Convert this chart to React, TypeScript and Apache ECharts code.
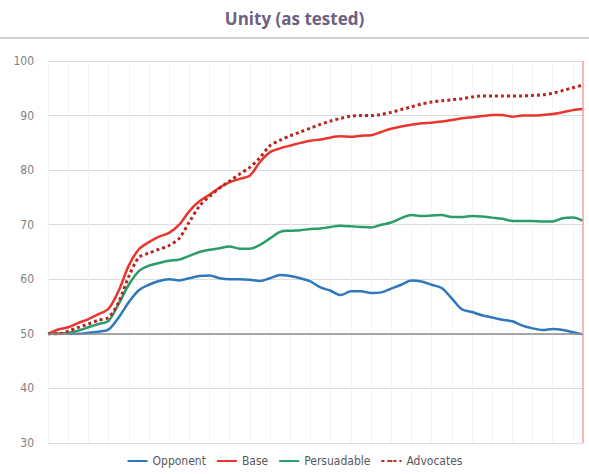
import React, { useEffect, useRef } from "react";
import * as echarts from "echarts";

const categories: string[] = Array.from({ length: 54 }, (_, i) => String(i + 1));

const opponent = [50, 50, 50, 50, 50.2, 50.4, 50.8, 53, 55.8, 58, 59, 59.7, 60, 59.8, 60.2, 60.6, 60.7, 60.2, 60, 60, 59.9, 59.7, 60.2, 60.8, 60.6, 60.2, 59.6, 58.5, 57.9, 57.1, 57.8, 57.8, 57.5, 57.6, 58.3, 59, 59.8, 59.6, 59, 58.4, 56.5, 54.5, 54, 53.4, 53, 52.6, 52.3, 51.5, 51, 50.7, 50.9, 50.7, 50.3, 49.9];
const base = [50, 50.8, 51.2, 52, 52.7, 53.6, 54.6, 57.9, 62.5, 65.5, 66.8, 67.8, 68.5, 70, 72.5, 74.3, 75.5, 76.8, 77.8, 78.4, 79, 81.5, 83.3, 84, 84.5, 85, 85.4, 85.6, 86, 86.2, 86.1, 86.3, 86.4, 87, 87.6, 88, 88.3, 88.6, 88.7, 88.9, 89.2, 89.5, 89.7, 89.9, 90.1, 90.1, 89.8, 90, 90, 90.1, 90.3, 90.6, 91, 91.2];
const persuadable = [50, 50, 50.2, 50.6, 51.2, 51.8, 52.4, 55.5, 59, 61.5, 62.5, 63, 63.4, 63.6, 64.3, 65, 65.4, 65.7, 66, 65.6, 65.6, 66.3, 67.5, 68.7, 68.9, 69, 69.2, 69.3, 69.6, 69.8, 69.7, 69.6, 69.5, 70, 70.4, 71.2, 71.8, 71.6, 71.7, 71.8, 71.4, 71.4, 71.6, 71.5, 71.3, 71.1, 70.7, 70.7, 70.7, 70.6, 70.6, 71.2, 71.3, 70.7];
const advocates = [50, 50, 50.5, 51.2, 51.8, 52.5, 53, 55.8, 60.5, 64, 64.8, 65.5, 66.2, 67.5, 70.5, 73.4, 75.2, 76.7, 78, 79.3, 80.5, 82.3, 84.5, 85.5, 86.3, 87, 87.7, 88.4, 89, 89.5, 89.9, 90, 90, 90.2, 90.6, 91.1, 91.6, 92.1, 92.5, 92.7, 92.9, 93.1, 93.4, 93.6, 93.6, 93.6, 93.6, 93.6, 93.7, 93.8, 94.1, 94.6, 95.1, 95.6];

const yTicks = [30, 40, 50, 60, 70, 80, 90, 100];
const titleText = "Unity (as tested)";

const FONT = "'Liberation Sans Narrow', 'DejaVu Sans Condensed', 'Open Sans', sans-serif";

export default function App() {
  const ref = useRef<HTMLDivElement>(null);
  useEffect(() => {
    if (!ref.current) return;
    const chart = echarts.init(ref.current, undefined, { renderer: "svg" });
    const lineSeries = (name: string, data: number[], color: string, extra: any = {}) => ({
      name,
      type: "line",
      data,
      symbol: "none",
      smooth: 0.3,
      lineStyle: { color, width: 2.5, ...(extra.lineStyle || {}) },
      itemStyle: { color },
      z: extra.z || 2,
      ...(extra.markLine ? { markLine: extra.markLine } : {}),
    });
    chart.setOption({
      animation: false,
      backgroundColor: "#ffffff",
      title: {
        text: titleText,
        left: "center",
        top: 5,
        textStyle: { color: "#6d6080", fontSize: 17, fontWeight: "bold", fontFamily: "'Open Sans', sans-serif" },
      },
      graphic: [
        { type: "line", shape: { x1: 0, y1: 38, x2: 589, y2: 38 }, style: { stroke: "#bfbfbf", lineWidth: 1.5 } },
      ],
      grid: { left: 48, right: 6, top: 61, bottom: 31, containLabel: false },
      legend: {
        bottom: 2,
        left: "center",
        itemWidth: 20,
        itemHeight: 3,
        itemGap: 10,
        textStyle: { color: "#595959", fontSize: 12, fontFamily: FONT },
        data: ["Opponent", "Base", "Persuadable", "Advocates"],
      },
      xAxis: {
        type: "category",
        data: categories,
        boundaryGap: false,
        axisLine: { show: false },
        axisTick: { show: false },
        axisLabel: { show: false },
        splitLine: { show: true, lineStyle: { color: "#f3f3f3", width: 1 } },
      },
      yAxis: {
        type: "value",
        min: yTicks[0],
        max: yTicks[yTicks.length - 1],
        interval: 10,
        axisLine: { show: false },
        axisTick: { show: false },
        axisLabel: { color: "#7f7f7f", fontSize: 12, fontFamily: FONT, margin: 14 },
        splitLine: { lineStyle: { color: "#dcdcdc", width: 1 } },
      },
      series: [
        lineSeries("Opponent", opponent, "#2f78bd", {
          z: 3,
          markLine: {
            silent: true,
            symbol: "none",
            label: { show: false },
            animation: false,
            data: [
              { yAxis: 50, lineStyle: { color: "#8c8c8c", width: 1.5, type: "solid" } },
              { xAxis: categories[categories.length - 1], lineStyle: { color: "#f4a09a", width: 1.5, type: "solid" } },
            ],
          },
        }),
        lineSeries("Base", base, "#e8352d", { z: 3 }),
        lineSeries("Persuadable", persuadable, "#2a9d68", { z: 3 }),
        lineSeries("Advocates", advocates, "#b82520", { z: 4, lineStyle: { type: [3, 3], width: 3 } }),
      ],
    });
    return () => chart.dispose();
  }, []);
  return <div ref={ref} style={{ width: 589, height: 474, position: "absolute", left: 0, top: 0 }} />;
}
